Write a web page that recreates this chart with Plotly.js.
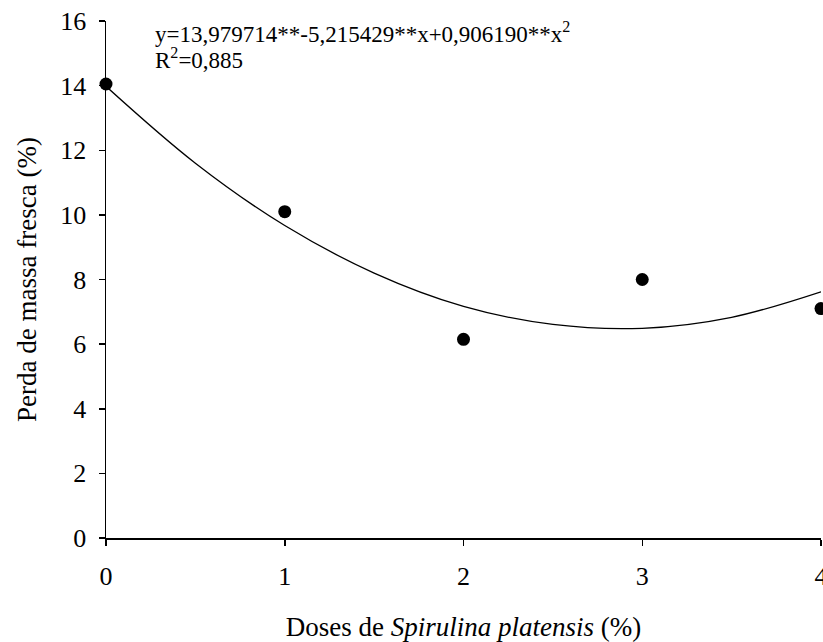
<!DOCTYPE html>
<html>
<head>
<meta charset="utf-8">
<script src="https://cdn.plot.ly/plotly-3.0.1.min.js"></script>
<style>html,body{margin:0;padding:0;background:#fff;}#chart{width:823px;height:642px;}</style>
</head>
<body>
<div id="chart"></div>
<script>
// Observed points
const doses = [0, 1, 2, 3, 4];
const perda = [14.05, 10.1, 6.15, 8.0, 7.1];
// Fitted curve
const curveX = [0, 0.5, 1, 1.5, 2, 2.5, 3, 3.5, 4];
const curveY = [13.98, 11.60, 9.67, 8.20, 7.17, 6.61, 6.49, 6.83, 7.62];
const xTicks = [0, 1, 2, 3, 4];
const yTicks = [0, 2, 4, 6, 8, 10, 12, 14, 16];
const eqText = "y=13,979714**-5,215429**x+0,906190**x<sup>2</sup>";
const r2Text = "R<sup>2</sup>=0,885";

const font = "'Liberation Serif', 'Times New Roman', serif";

const traces = [
  {x: curveX, y: curveY, mode: 'lines', line: {color: '#000', width: 1.3, shape: 'spline', smoothing: 1}, hoverinfo: 'skip', cliponaxis: false},
  {x: doses, y: perda, mode: 'markers', marker: {color: '#000', size: 13}, cliponaxis: false}
];

const layout = {
  width: 823, height: 642,
  margin: {l: 106, r: 2, t: 21, b: 104},
  paper_bgcolor: '#fff', plot_bgcolor: '#fff',
  showlegend: false,
  font: {family: font, color: '#000', size: 27},
  xaxis: {
    range: [0, 4], tickvals: xTicks, ticktext: xTicks.map(String),
    showline: true, linecolor: '#000', linewidth: 1.5, mirror: false,
    ticks: 'outside', ticklen: 6, tickwidth: 1.5, tickcolor: '#000',
    showgrid: false, zeroline: false, automargin: false,
    ticklabeloverflow: 'allow', ticklabelstandoff: 8,
    tickfont: {family: font, size: 26, color: '#000'},
    title: {text: 'Doses de <i>Spirulina platensis</i> (%)', font: {family: font, size: 27, color: '#000'}, standoff: 30}
  },
  yaxis: {
    range: [0, 16], tickvals: yTicks, ticktext: yTicks.map(String),
    showline: true, linecolor: '#000', linewidth: 1.5,
    ticks: 'outside', ticklen: 6, tickwidth: 1.5, tickcolor: '#000',
    showgrid: false, zeroline: false, automargin: false,
    ticklabeloverflow: 'allow', ticklabelstandoff: 7,
    tickfont: {family: font, size: 26, color: '#000'},
    title: {text: 'Perda de massa fresca (%)', font: {family: font, size: 27, color: '#000'}, standoff: 16}
  },
  annotations: [
    {xref: 'paper', yref: 'paper', x: 0.066, y: 0.978, xanchor: 'left', yanchor: 'middle', text: eqText, showarrow: false, font: {family: font, size: 23, color: '#000'}},
    {xref: 'paper', yref: 'paper', x: 0.066, y: 0.928, xanchor: 'left', yanchor: 'middle', text: r2Text, showarrow: false, font: {family: font, size: 23, color: '#000'}}
  ]
};

Plotly.newPlot('chart', traces, layout, {displayModeBar: false, staticPlot: true});
</script>
</body>
</html>
